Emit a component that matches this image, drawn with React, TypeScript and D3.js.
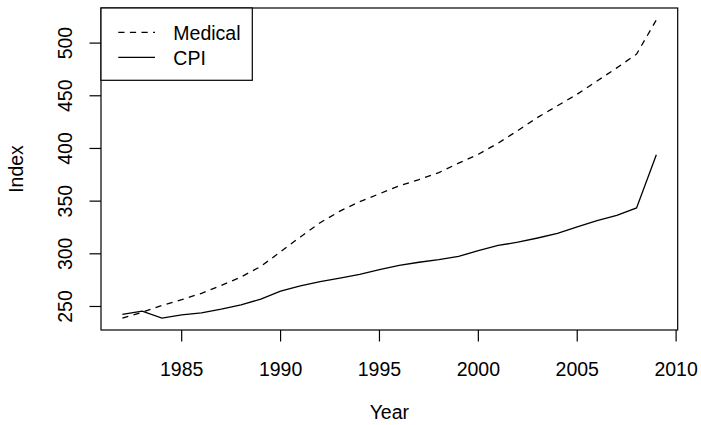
import React from "react";
import * as d3 from "d3";

const years = [1982,1983,1984,1985,1986,1987,1988,1989,1990,1991,1992,1993,1994,1995,1996,1997,1998,1999,2000,2001,2002,2003,2004,2005,2006,2007,2008,2009];
const medical = [239,244.5,251,256.5,262.5,270,278,288,302,316,329.5,340.5,349.5,357,364.5,370.5,377,386,394.5,405,417,429.5,440.5,451.5,464,476.5,489.5,522];
const cpi = [242.5,245.5,239,242,244,247.5,251.5,257,264.5,269.5,273.5,277,280.5,285,289,292,294.5,297.5,303,308,311,315,319.5,325.5,331.5,336.5,343.5,394];
const xTicks = [1985,1990,1995,2000,2005,2010];
const yTicks = [250,300,350,400,450,500];
const legendLabels = ["Medical","CPI"];

const W = 701, H = 425;
const L = 101, R = 677.7, T = 8, B = 330;
const FONT = "'Liberation Sans', Arial, Helvetica, sans-serif";
const FS = 19.5;

export default function App() {
  const xr = d3.extent(years) as [number, number];
  const xe = (xr[1] - xr[0]) * 0.04;
  const all = medical.concat(cpi);
  const yr = [d3.min(all)!, d3.max(all)!];
  const ye = (yr[1] - yr[0]) * 0.04;
  const x = d3.scaleLinear().domain([xr[0] - xe, xr[1] + xe]).range([L, R]);
  const y = d3.scaleLinear().domain([yr[0] - ye, yr[1] + ye]).range([B, T]);
  const line = (vals: number[]) =>
    d3.line<number>().x((_, i) => x(years[i])).y((v) => y(v))(vals) || "";
  const tick = 11.5;
  const dash = "6.2 5.4";
  return (
    <svg width={W} height={H} style={{ position: "absolute", left: 0, top: 0, background: "#fff" }} fontFamily={FONT}>
      <rect x={0} y={0} width={W} height={H} fill="#fff" />
      <path d={line(medical)} fill="none" stroke="#000" strokeWidth={1.3} strokeDasharray={dash} />
      <path d={line(cpi)} fill="none" stroke="#000" strokeWidth={1.3} />
      <rect x={L} y={T} width={R - L} height={B - T} fill="none" stroke="#000" strokeWidth={1.2} />
      {xTicks.map((t) => (
        <g key={"x" + t}>
          <line x1={x(t)} x2={x(t)} y1={B} y2={B + tick} stroke="#000" strokeWidth={1.2} />
          <text x={x(t)} y={375.7} fontSize={FS} textAnchor="middle" fill="#000">{t}</text>
        </g>
      ))}
      {yTicks.map((t) => (
        <g key={"y" + t}>
          <line x1={L - tick} x2={L} y1={y(t)} y2={y(t)} stroke="#000" strokeWidth={1.2} />
          <text transform={`translate(71.7,${y(t)}) rotate(-90)`} fontSize={FS} textAnchor="middle" fill="#000">{t}</text>
        </g>
      ))}
      <text x={(L + R) / 2} y={419} fontSize={FS} textAnchor="middle" fill="#000">Year</text>
      <text transform={`translate(23.3,${(T + B) / 2}) rotate(-90)`} fontSize={FS} textAnchor="middle" fill="#000">Index</text>
      <rect x={L} y={T} width={151.3} height={72.3} fill="#fff" stroke="#000" strokeWidth={1.2} />
      <line x1={118.3} x2={155} y1={32.3} y2={32.3} stroke="#000" strokeWidth={1.3} strokeDasharray={dash} />
      <line x1={118.3} x2={155} y1={57.3} y2={57.3} stroke="#000" strokeWidth={1.3} />
      <text x={173.3} y={40} fontSize={FS} fill="#000">{legendLabels[0]}</text>
      <text x={173.3} y={65} fontSize={FS} fill="#000">{legendLabels[1]}</text>
    </svg>
  );
}
